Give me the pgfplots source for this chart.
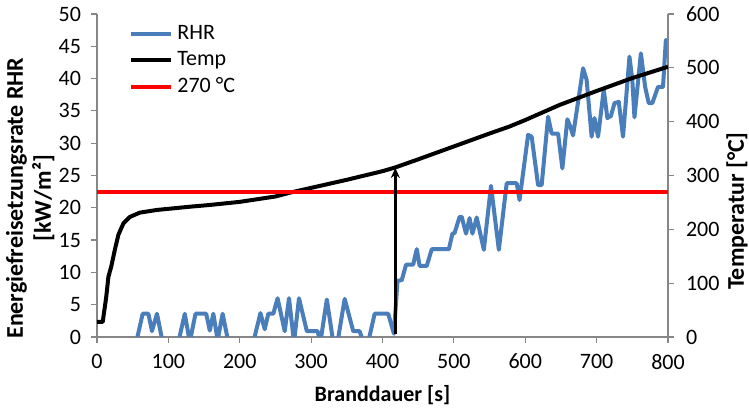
\documentclass[border=0pt]{standalone}
\usepackage{fontspec}
\setmainfont{Carlito}
\usepackage{pgfplots}
\pgfplotsset{compat=1.18}
\usetikzlibrary{arrows.meta}
\definecolor{rhrblue}{HTML}{4A7EBB}
\definecolor{axgray}{HTML}{868686}
\pgfplotstableread{
t T
0 28
8 28
13 75
16 112
20 131
25 162
30 190
37 211
46 223
60 231
84 236
107 239
130 242
156 245
200 251
250 261
270 268
300 277
350 292
400 308
418 315
450 330
500 354
550 378
578 391
600 403
648 431
700 457
750 481
800 502
}\temptable
\begin{document}
\begin{tikzpicture}
\pgfplotsset{
 common/.style={scale only axis, width=285.5pt, height=161.5pt, xmin=0, xmax=800,
   tick align=outside, major tick length=3pt, tick style={axgray, line width=0.6pt},
   axis line style={axgray, line width=0.6pt},
   /pgf/number format/assume math mode=true,
   ticklabel style={font=\fontsize{11}{13}\selectfont},
   label style={font=\fontsize{11}{13}\selectfont\bfseries},
 }
}
\begin{axis}[common, ymin=0, ymax=50, ytick={0,5,...,50}, xtick={0,100,...,800},
  axis y line*=left, axis x line*=bottom,
  yticklabel style={xshift=-1.5pt}, xticklabel style={yshift=-2pt},
  xlabel={Branddauer [s]}, ylabel={Energiefreisetzungsrate RHR\\{}[kW/m²]},
  ylabel style={align=center, at={(axis description cs:-0.117,0.43)}, anchor=center,
    font=\fontsize{12}{14}\selectfont\bfseries},
  xlabel style={at={(axis description cs:0.5,-0.18)}, anchor=center},
]
\addplot[rhrblue, line width=2pt, line join=round] coordinates {
(0,-0.8)(55,-0.8)(64,3.6)(72,3.6)(77,0.9)(84,3.6)(92,-0.8)(114,-0.8)(123,3.6)(130,-0.8)(138,3.6)(153,3.6)(158,1.0)(163,3.6)(169,-0.5)(176,3.6)(184,-0.8)(219,-0.8)(229,3.7)(235,1.2)(240,3.6)(247,3.6)(253,6.0)(263,0.9)(269,6.0)(276,-0.8)(283,6.0)(294,0.9)(309,0.9)(313,-0.8)(322,5.8)(331,-0.8)(337,-0.8)(347,5.9)(359,0.9)(368,0.9)(373,-0.8)(380,-0.8)(389,3.6)(408,3.6)(416,0.5)(421,8.7)(427,8.8)(433,11.2)(443,11.2)(448,13.6)(452,11.0)(462,11.0)(469,13.6)(493,13.6)(498,16.0)(501,16.1)(508,18.6)(511,18.6)(517,16.0)(522,18.4)(526,16.0)(532,18.5)(542,13.5)(552,23.4)(563,13.5)(574,23.8)(588,23.8)(592,21.2)(604,31.3)(609,31.0)(618,23.5)(623,23.5)(632,34.1)(637,31.5)(646,31.5)(652,26.1)(659,33.7)(663,32.6)(667,31.2)(681,41.6)(686,39.8)(693,31.0)(697,33.9)(702,31.0)(710,38.3)(715,33.9)(720,34.2)(725,36.2)(731,36.4)(737,31.0)(746,43.4)(750,39.8)(753,34.0)(762,43.9)(768,38.7)(773,36.2)(778,36.2)(786,38.7)(793,38.7)(797,46.0)(800,43.6)
};
\coordinate (ll) at (rel axis cs:0,0);
\coordinate (ur) at (rel axis cs:1,1);
\end{axis}
\begin{axis}[common, ymin=0, ymax=600, ytick={0,100,...,600},
  axis y line*=right, axis x line=none,
  yticklabel style={xshift=2.5pt},
  ylabel={Temperatur [°C]},
  ylabel style={at={(axis description cs:1.121,0.39)}, anchor=center, rotate=0,
    font=\fontsize{12}{14}\selectfont\bfseries},
  legend style={draw=none, fill=none, at={(axis description cs:0.056,0.978)}, anchor=north west,
    font=\fontsize{11}{13}\selectfont, row sep=0.5pt, inner sep=0pt},
  legend cell align=left,
  legend image code/.code={\draw[#1] (0pt,0pt) -- (20pt,0pt);},
]
\addlegendimage{rhrblue, line width=2pt}
\addlegendentry{RHR}
\addplot[black, line width=2pt, line join=round] table[x=t, y=T] {\temptable};
\addlegendentry{Temp}
\addplot[red, line width=2pt] coordinates {(0,270) (800,270)};
\addlegendentry{270 °C}
\draw[-{Stealth[length=5pt, width=4.5pt]}, line width=1.4pt, black] (axis cs:418,6) -- (axis cs:418,314);
\end{axis}
\pgfresetboundingbox
\path[use as bounding box] ([xshift=-48.5pt,yshift=-36.5pt]ll) rectangle ([xshift=40.5pt,yshift=7pt]ur);
\end{tikzpicture}
\end{document}
